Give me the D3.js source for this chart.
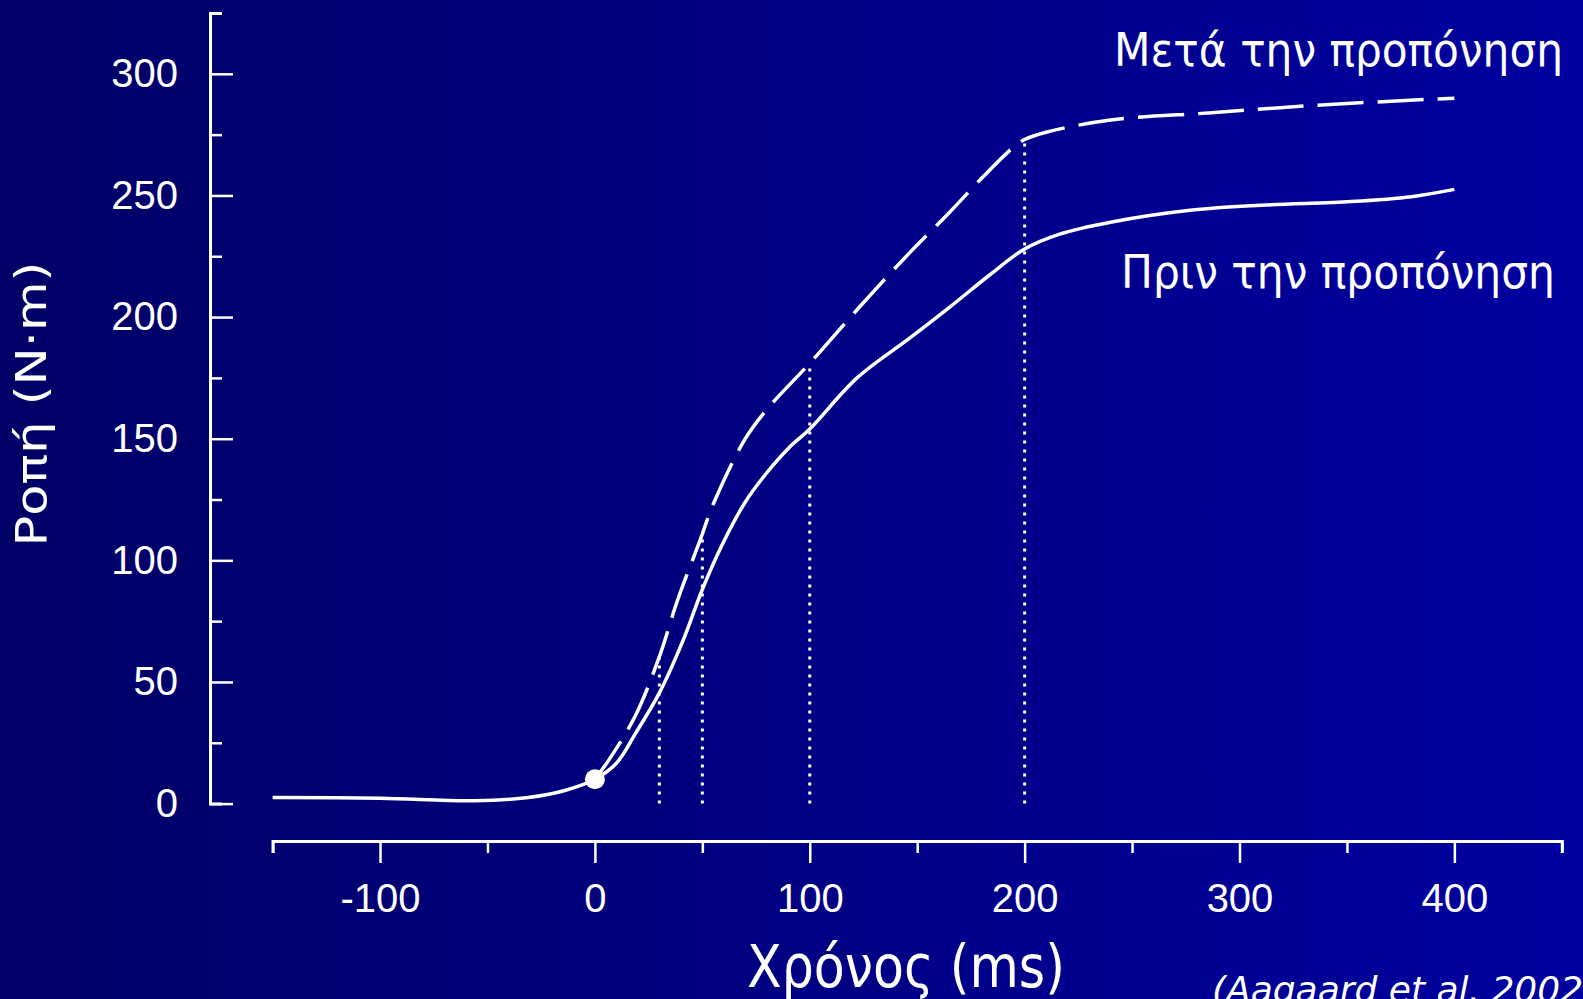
<!DOCTYPE html>
<html>
<head>
<meta charset="utf-8">
<script src="https://cdn.jsdelivr.net/npm/d3@7"></script>
<style>
  html, body { margin: 0; padding: 0; background: #000066; overflow: hidden; }
</style>
</head>
<body>
<div class="canvas"></div>
<script>
// torque before training (solid)
const timeBefore = [-150, -100, -56, -31, -14, 0, 10, 19, 30, 41, 50, 59, 70, 80, 90, 100, 122, 146, 165, 184, 200, 216, 240, 278, 310, 352, 380, 400]
const torqueBefore = [2.5, 2.2, 1.2, 2.5, 5.4, 10, 16.6, 29, 45.5, 67, 88, 106, 124, 136, 146, 154, 175, 191, 204, 217.5, 228, 234, 239, 244, 246, 247.5, 249.5, 252.5]

// torque after training (dashed)
const timeAfter = [0, 7, 19, 30, 38.5, 48, 56, 70, 80, 100, 122, 146, 165, 181, 195, 200, 210, 240, 287, 334, 400]
const torqueAfter = [10, 18.6, 36.4, 60.4, 83.7, 106, 125, 150, 162, 181, 203, 226, 243, 258, 270, 273, 276, 281, 284, 287, 290]

// vertical dotted markers
const markerTimes = [30, 50, 100, 200]
const markerTops = [60, 109, 181, 273]

const xTicks = [-150, -100, -50, 0, 50, 100, 150, 200, 250, 300, 350, 400, 450]
const yTicks = [0, 25, 50, 75, 100, 125, 150, 175, 200, 225, 250, 275, 300, 325]

const yTitle = 'Ροπή (N·m)'
const xTitle = 'Χρόνος (ms)'
const labelAfter = 'Μετά την προπόνηση'
const labelBefore = 'Πριν την προπόνηση'
const citation = '(Aagaard et al. 2002)'

const W = 1583, H = 999
const svg = d3.select('.canvas').append('svg').attr('width', W).attr('height', H)

const grad = svg.append('defs').append('linearGradient').attr('id', 'bg')
    .attr('x1', 0).attr('y1', 0).attr('x2', 1).attr('y2', 0)
grad.append('stop').attr('offset', 0).attr('stop-color', '#000066')
grad.append('stop').attr('offset', 1).attr('stop-color', '#0000a0')
svg.append('rect').attr('width', W).attr('height', H).attr('fill', 'url(#bg)')

const x = d3.scaleLinear().domain([-150, 450]).range([272.6, 1561.8])
const y = d3.scaleLinear().domain([0, 325]).range([803.6, 13])

// x axis
const xAxis = d3.axisBottom(x).tickValues(xTicks).tickSizeOuter(12)
    .tickFormat(d => d % 100 === 0 ? String(d) : '')
const xAxisG = svg.append('g').attr('transform', 'translate(0, 841)').call(xAxis)
xAxisG.select('.domain').attr('stroke', '#fff').attr('stroke-width', 3).attr('fill', 'none')
xAxisG.selectAll('.tick line').attr('stroke', '#fff').attr('stroke-width', 2.5)
    .attr('y2', d => d % 100 === 0 ? 22 : 12)
xAxisG.selectAll('.tick text').attr('fill', '#fff').attr('y', 912).attr('dy', 0)
    .attr('transform', 'translate(0,-841)')
    .style('font-family', '"Liberation Sans", Arial, sans-serif').style('font-size', '40px')

// y axis (ticks point into the plot)
const yAxis = d3.axisLeft(y).tickValues(yTicks).tickSizeOuter(-12).tickSizeInner(-23).tickPadding(32)
    .tickFormat(d => d % 50 === 0 ? String(d) : '')
const yAxisG = svg.append('g').attr('transform', 'translate(210, 0)').call(yAxis)
yAxisG.select('.domain').attr('stroke', '#fff').attr('stroke-width', 3).attr('fill', 'none')
yAxisG.selectAll('.tick line').attr('stroke', '#fff').attr('stroke-width', 2.5)
    .attr('x2', d => d % 50 === 0 ? 23 : 12)
yAxisG.selectAll('.tick text').attr('fill', '#fff')
    .style('font-family', '"Liberation Sans", Arial, sans-serif').style('font-size', '40px')

// dotted markers
svg.append('g').selectAll('line')
    .data(markerTimes)
    .enter().append('line')
        .attr('x1', d => x(d)).attr('x2', d => x(d))
        .attr('y1', y(0)).attr('y2', (d, i) => y(markerTops[i]))
        .attr('stroke', '#fff').attr('stroke-width', 3).attr('stroke-dasharray', '3,6')

const line = d3.line().x(d => x(d[0])).y(d => y(d[1])).curve(d3.curveCatmullRom.alpha(0.5))

svg.append('path')
    .datum(timeBefore.map((t, i) => [t, torqueBefore[i]]))
    .attr('d', line)
    .attr('fill', 'none').attr('stroke', '#fff').attr('stroke-width', 3.5)

svg.append('path')
    .datum(timeAfter.map((t, i) => [t, torqueAfter[i]]))
    .attr('d', line)
    .attr('fill', 'none').attr('stroke', '#fff').attr('stroke-width', 3.5)
    .attr('stroke-dasharray', '46,14')

// onset point
svg.append('circle').attr('cx', x(0)).attr('cy', y(10)).attr('r', 10).attr('fill', '#fff')

const titleFont = '"DejaVu Sans Condensed", "DejaVu Sans", sans-serif'

svg.append('text').text(yTitle)
    .attr('transform', 'translate(46, 404) rotate(-90)')
    .attr('text-anchor', 'middle').attr('fill', '#fff')
    .attr('textLength', 285).attr('lengthAdjust', 'spacingAndGlyphs')
    .style('font-family', titleFont).style('font-size', '42px')

svg.append('text').text(xTitle)
    .attr('x', 906).attr('y', 987)
    .attr('text-anchor', 'middle').attr('fill', '#fff')
    .attr('textLength', 318).attr('lengthAdjust', 'spacingAndGlyphs')
    .style('font-family', titleFont).style('font-size', '58px')

svg.append('text').text(labelAfter)
    .attr('x', 1114).attr('y', 66).attr('fill', '#fff')
    .attr('textLength', 449).attr('lengthAdjust', 'spacingAndGlyphs')
    .style('font-family', titleFont).style('font-size', '46px')

svg.append('text').text(labelBefore)
    .attr('x', 1121).attr('y', 288).attr('fill', '#fff')
    .attr('textLength', 434).attr('lengthAdjust', 'spacingAndGlyphs')
    .style('font-family', titleFont).style('font-size', '46px')

svg.append('text').text(citation)
    .attr('x', 1212).attr('y', 1002).attr('fill', '#fff')
    .style('font-family', '"DejaVu Sans", sans-serif').style('font-style', 'italic')
    .style('font-size', '36px')
</script>
</body>
</html>
